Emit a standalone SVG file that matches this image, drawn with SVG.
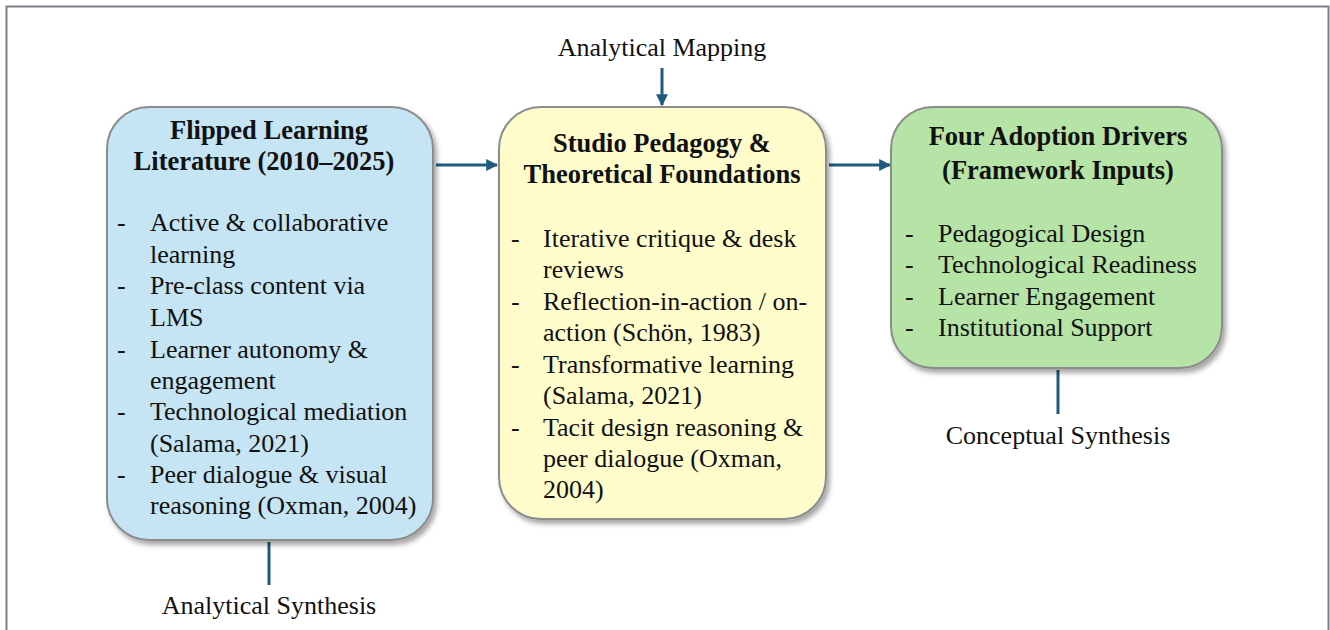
<svg xmlns="http://www.w3.org/2000/svg" width="1330" height="630" viewBox="0 0 1330 630">
  <defs>
    <filter id="shadow" x="-10%" y="-10%" width="125%" height="125%">
      <feDropShadow dx="3" dy="4" stdDeviation="2.5" flood-color="#000" flood-opacity="0.35"/>
    </filter>
    <marker id="arrow" viewBox="0 0 10 10" refX="9" refY="5" markerWidth="4" markerHeight="4" orient="auto" markerUnits="strokeWidth">
      <path d="M0,0 L10,5 L0,10 z" fill="#1f5b7e"/>
    </marker>
  </defs>
  <style>
    .box { stroke: #8c8c8c; stroke-width: 2; filter: url(#shadow); }
    .title { font-family: "Liberation Serif", "Times New Roman", serif; font-weight: bold; font-size: 26.5px; fill: #111; text-anchor: middle; }
    .item { font-family: "Liberation Serif", "Times New Roman", serif; font-size: 26px; fill: #111; }
    .label { font-family: "Liberation Serif", "Times New Roman", serif; font-size: 26px; fill: #111; text-anchor: middle; }
    .conn { stroke: #1f5b7e; stroke-width: 3; fill: none; }
  </style>

  <rect width="1330" height="630" fill="#ffffff"/>
  <!-- outer frame -->
  <path d="M6.5,640 V6.5 H1328.5 V640" fill="none" stroke="#7a8088" stroke-width="2"/>

  <!-- connectors -->
  <g id="connectors">
    <line class="conn" x1="436" y1="165" x2="497" y2="165" marker-end="url(#arrow)"/>
    <line class="conn" x1="829" y1="165" x2="890" y2="165" marker-end="url(#arrow)"/>
    <line class="conn" x1="662" y1="68" x2="662" y2="105" marker-end="url(#arrow)"/>
    <line class="conn" x1="269" y1="542" x2="269" y2="585"/>
    <line class="conn" x1="1058" y1="370" x2="1058" y2="414"/>
  </g>

  <!-- flipped learning literature -->
  <g id="flipped-learning">
    <rect class="box" x="107" y="107" width="326" height="433" rx="42" fill="#c5e4f4"/>
    <text class="title" x="269" y="139">Flipped Learning</text>
    <text class="title" x="264" y="170">Literature (2010–2025)</text>
    <g class="item">
      <text x="117" y="231">-</text><text x="150" y="231">Active &amp; collaborative</text>
      <text x="150" y="263">learning</text>
      <text x="117" y="294">-</text><text x="150" y="294">Pre-class content via</text>
      <text x="150" y="326">LMS</text>
      <text x="117" y="358">-</text><text x="150" y="358">Learner autonomy &amp;</text>
      <text x="150" y="389">engagement</text>
      <text x="117" y="420">-</text><text x="150" y="420">Technological mediation</text>
      <text x="150" y="452">(Salama, 2021)</text>
      <text x="117" y="483">-</text><text x="150" y="483">Peer dialogue &amp; visual</text>
      <text x="150" y="514">reasoning (Oxman, 2004)</text>
    </g>
  </g>

  <!-- studio pedagogy -->
  <g id="studio-pedagogy">
    <rect class="box" x="499" y="107" width="327" height="412" rx="42" fill="#fffccc"/>
    <text class="title" x="662" y="152">Studio Pedagogy &amp;</text>
    <text class="title" x="662" y="183">Theoretical Foundations</text>
    <g class="item">
      <text x="511" y="247">-</text><text x="543" y="247">Iterative critique &amp; desk</text>
      <text x="543" y="278">reviews</text>
      <text x="511" y="310">-</text><text x="543" y="310">Reflection-in-action / on-</text>
      <text x="543" y="341">action (Schön, 1983)</text>
      <text x="511" y="373">-</text><text x="543" y="373">Transformative learning</text>
      <text x="543" y="404">(Salama, 2021)</text>
      <text x="511" y="436">-</text><text x="543" y="436">Tacit design reasoning &amp;</text>
      <text x="543" y="467">peer dialogue (Oxman,</text>
      <text x="543" y="498">2004)</text>
    </g>
  </g>

  <!-- adoption drivers -->
  <g id="adoption-drivers">
    <rect class="box" x="891" y="107" width="331" height="261" rx="42" fill="#b6e4a6"/>
    <text class="title" x="1058" y="145">Four Adoption Drivers</text>
    <text class="title" x="1058" y="179">(Framework Inputs)</text>
    <g class="item">
      <text x="905" y="242">-</text><text x="938" y="242">Pedagogical Design</text>
      <text x="905" y="273">-</text><text x="938" y="273">Technological Readiness</text>
      <text x="905" y="305">-</text><text x="938" y="305">Learner Engagement</text>
      <text x="905" y="336">-</text><text x="938" y="336">Institutional Support</text>
    </g>
  </g>

  <g id="label-mapping"><text class="label" x="662" y="56">Analytical Mapping</text></g>
  <g id="label-analytical"><text class="label" x="269" y="614">Analytical Synthesis</text></g>
  <g id="label-conceptual"><text class="label" x="1058" y="444">Conceptual Synthesis</text></g>
</svg>
